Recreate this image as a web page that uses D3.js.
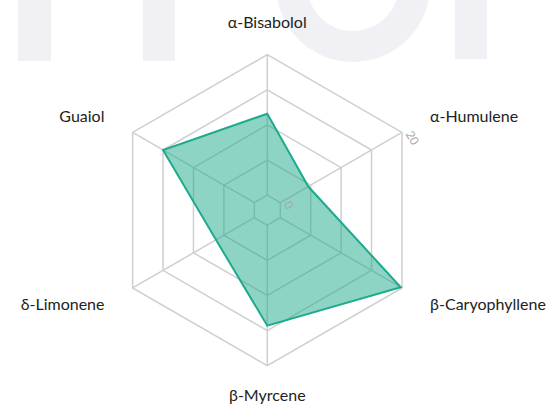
<!DOCTYPE html>
<html>
<head>
<meta charset="utf-8">
<script src="https://cdn.jsdelivr.net/npm/d3@7"></script>
<style>
  body { margin: 0; background: #fff; }
  svg { display: block; }
</style>
</head>
<body>
<script>
// chart data ==============================================================
var categories = ['α-Bisabolol', 'α-Humulene', 'β-Caryophyllene', 'β-Myrcene', 'δ-Limonene', 'Guaiol']
var values = [11.6, 4.6, 19.8, 14.3, 6.3, 15.0]
var ticks = [0, 5, 10, 15, 20]
var tickLabels = ['0', '20']

var width = 555, height = 405
var cx = 267.3, cy = 210.2
var color = { line: '#1eaa8c', grid: '#cfcfcf', text: '#222', tick: '#a8a8a8', mark: '#f0f0f5' }

var svg = d3.select('body').append('svg')
  .attr('width', width)
  .attr('height', height)

// faint watermark in the background
var wm = svg.append('g').attr('fill', color.mark)
wm.append('rect').attr('x', 18).attr('y', 0).attr('width', 33).attr('height', 61)
wm.append('rect').attr('x', 143).attr('y', 0).attr('width', 32).attr('height', 61)
wm.append('rect').attr('x', 455).attr('y', 0).attr('width', 32).attr('height', 59)
wm.append('path')
  .attr('d', d3.arc().innerRadius(46).outerRadius(77).startAngle(0).endAngle(2 * Math.PI)())
  .attr('transform', 'translate(353,-15)')

var r = d3.scaleLinear().domain([0, 20]).range([15, 155.5])
var angle = d3.scalePoint().domain(categories).range([0, 2 * Math.PI * 5 / 6])

function pt(cat, v) {
  var a = angle(cat)
  return [cx + r(v) * Math.sin(a), cy - r(v) * Math.cos(a)]
}

var g = svg.append('g')

// rings
g.selectAll('.ring')
  .data(ticks)
  .enter().append('polygon')
  .attr('points', function(t) { return categories.map(function(c) { return pt(c, t).join(',') }).join(' ') })
  .attr('fill', 'none')
  .attr('stroke', color.grid)
  .attr('stroke-width', 1.5)

// spokes
g.selectAll('.spoke')
  .data(categories)
  .enter().append('line')
  .attr('x1', function(c) { return pt(c, 0)[0] })
  .attr('y1', function(c) { return pt(c, 0)[1] })
  .attr('x2', function(c) { return pt(c, 20)[0] })
  .attr('y2', function(c) { return pt(c, 20)[1] })
  .attr('stroke', color.grid)
  .attr('stroke-width', 1.5)

// data shape
var line = d3.lineRadial()
  .angle(function(d, i) { return angle(categories[i]) })
  .radius(function(d) { return r(d) })
  .curve(d3.curveLinearClosed)

g.append('path')
  .datum(values)
  .attr('transform', 'translate(' + cx + ',' + cy + ')')
  .attr('d', line)
  .attr('fill', color.line)
  .attr('fill-opacity', 0.5)
  .attr('stroke', color.line)
  .attr('stroke-width', 2)
  .attr('stroke-linejoin', 'miter')

// tick labels along the second axis, running across it
var tickAxis = categories[1]
g.selectAll('.tick')
  .data([ticks[0], ticks[ticks.length - 1]])
  .enter().append('text')
  .attr('transform', function(t) {
    var a = angle(tickAxis), rr = r(t) + 2
    return 'translate(' + (cx + rr * Math.sin(a)) + ',' + (cy - rr * Math.cos(a)) + ') rotate(' + (a * 180 / Math.PI) + ')'
  })
  .attr('text-anchor', 'start')
  .attr('dx', 3)
  .attr('font-family', 'Lato')
  .attr('font-size', '12px')
  .attr('fill', color.tick)
  .text(function(t, i) { return tickLabels[i] })

// category labels
var labelR = 188
g.selectAll('.label')
  .data(categories)
  .enter().append('text')
  .attr('x', function(c) { return cx + labelR * Math.sin(angle(c)) })
  .attr('y', function(c) { return cy - labelR * Math.cos(angle(c)) })
  .attr('dy', function(c) { return Math.cos(angle(c)) < -0.9 ? '0.2em' : '0.35em' })
  .attr('text-anchor', function(c) {
    var s = Math.sin(angle(c))
    return Math.abs(s) < 0.01 ? 'middle' : (s > 0 ? 'start' : 'end')
  })
  .attr('font-family', 'Lato')
  .attr('font-size', '16px')
  .attr('fill', color.text)
  .text(function(c) { return c })
</script>
</body>
</html>
